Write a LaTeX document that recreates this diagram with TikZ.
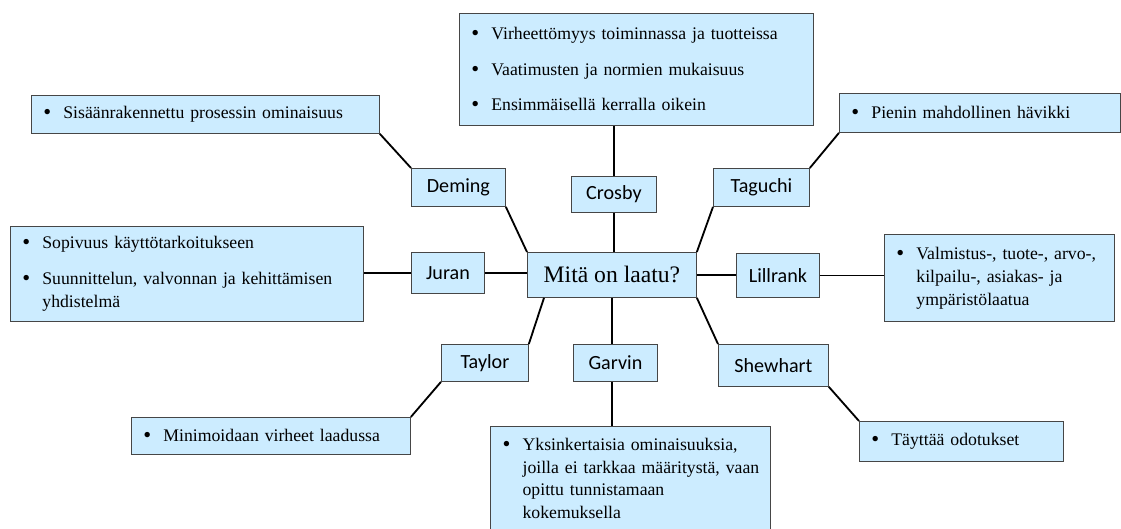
\documentclass[tikz,border=0pt]{standalone}
\usepackage{fontspec}
\setmainfont{Liberation Serif}
\newfontfamily\calibri{Carlito}
\usetikzlibrary{calc}
\definecolor{vaaleansininen}{RGB}{204,236,255}
\definecolor{reuna}{RGB}{70,70,70}
\newcommand{\kohta}[1]{\hangindent=14.2pt\hangafter=1\noindent\makebox[14.2pt][l]{\raisebox{-0.8pt}{\fontsize{16}{16}\selectfont\textbullet}}#1\par}
\newcommand{\vali}{\vspace{9.2pt}}

\tikzset{
	laatikko/.style={draw=reuna, line width=0.6pt, fill=vaaleansininen, anchor=north west, inner sep=0pt},
	nimi/.style 2 args={laatikko, font=\calibri\fontsize{14.3}{16}\selectfont,
		minimum width=#1*0.025cm, minimum height=#2*0.025cm},
	lista/.style 2 args={laatikko, font=\fontsize{12.6}{16.3}\selectfont, align=left,
		inner xsep=0.3cm, text width=(#1-24)*0.025cm, minimum height=#2*0.025cm},
	viiva/.style={line width=1.3pt}
}

\begin{document}
\begin{tikzpicture}[x=0.025cm, y=-0.025cm]
	\useasboundingbox (0,0) rectangle (1121,528);

	\node[laatikko, font=\fontsize{16.8}{20}\selectfont, minimum width=169*0.025cm, minimum height=45*0.025cm]
		(laatu) at (527,252) {Mitä on laatu?};

	\node[nimi={94}{38}] (deming) at (411,168) {Deming};
	\node[nimi={85}{36}] (crosby) at (571,176) {Crosby};
	\node[nimi={96}{38}] (taguchi) at (713,168) {Taguchi};
	\node[nimi={73}{41}] (juran) at (411,252) {Juran};
	\node[nimi={83}{44}] (lillrank) at (736,253) {Lillrank};
	\node[nimi={87}{37}] (taylor) at (441,344) {Taylor};
	\node[nimi={84}{37}] (garvin) at (573,344) {Garvin};
	\node[nimi={110}{42}] (shewhart) at (718,344) {Shewhart};

	\node[lista={348}{38}] (sisaan) at (31,95) {\kohta{Sisäänrakennettu prosessin ominaisuus}};
	\node[lista={354}{112}] (crosbyt) at (459,13) {\kohta{Virheettömyys toiminnassa ja tuotteissa}\vali
		\kohta{Vaatimusten ja normien mukaisuus}\vali
		\kohta{Ensimmäisellä kerralla oikein}};
	\node[lista={281}{39}] (taguchit) at (839,93) {\kohta{Pienin mahdollinen hävikki}};
	\node[lista={353}{95}] (juranb) at (10,226) {\kohta{Sopivuus käyttötarkoitukseen}\vali
		\kohta{Suunnittelun, valvonnan ja kehittämisen\newline yhdistelmä}};
	\node[lista={230}{87}] (lillt) at (884,234) {\kohta{Valmistus-, tuote-, arvo-,\newline kilpailu-, asiakas- ja\newline ympäristölaatua}};
	\node[lista={279}{37}] (taylort) at (131,417) {\kohta{Minimoidaan virheet laadussa}};
	\node[lista={280}{104}, inner xsep=8*0.025cm, text width=264*0.025cm] (garvint) at (490,426)
		{\leftskip=3pt\kohta{Yksinkertaisia ominaisuuksia,\newline joilla ei tarkkaa määritystä, vaan\newline opittu tunnistamaan\newline kokemuksella}};
	\node[lista={204}{40}] (shewt) at (859,421) {\kohta{Täyttää odotukset}};

	\draw[viiva] (sisaan.south east) -- (deming.north west);
	\draw[viiva] (deming.south east) -- (laatu.north west);
	\draw[viiva] (crosby.north) -- (crosby.north |- crosbyt.south);
	\draw[viiva] (crosby.south) -- (crosby.south |- laatu.north);
	\draw[viiva] (taguchit.south west) -- (taguchi.north east);
	\draw[viiva] (taguchi.south west) -- (laatu.north east);
	\draw[viiva] (juran.west) -- (juran.west -| juranb.east);
	\draw[viiva] (juran.east) -- (juran.east -| laatu.west);
	\draw[viiva] (laatu.east) -- (laatu.east -| lillrank.west);
	\draw[viiva] (lillrank.east) -- (lillrank.east -| lillt.west);
	\draw[viiva] ($(laatu.south west)+(17,0)$) -- (taylor.north east);
	\draw[viiva] (taylor.south west) -- (taylort.north east);
	\draw[viiva] (laatu.south) -- (laatu.south |- garvin.north);
	\draw[viiva] (laatu.south |- garvin.south) -- (laatu.south |- garvint.north);
	\draw[viiva] (laatu.south east) -- (shewhart.north west);
	\draw[viiva] (shewhart.south east) -- (shewt.north west);
\end{tikzpicture}
\end{document}
